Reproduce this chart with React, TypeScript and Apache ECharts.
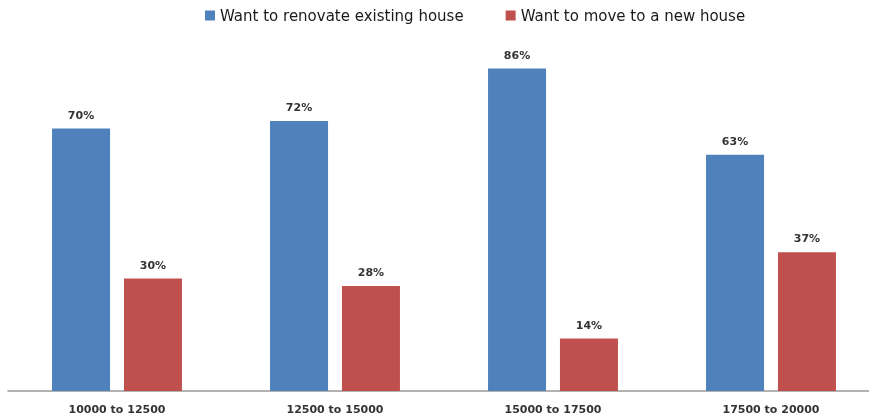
import React, { useEffect, useRef } from "react";
import * as echarts from "echarts";

const categories = ["10000 to 12500", "12500 to 15000", "15000 to 17500", "17500 to 20000"];
const renovate = [70, 72, 86, 63];
const moveNew = [30, 28, 14, 37];
const seriesNames = ["Want to renovate existing house", "Want to move to a new house"];

export default function App() {
  const ref = useRef<HTMLDivElement>(null);
  useEffect(() => {
    if (!ref.current) return;
    const chart = echarts.init(ref.current, null, { renderer: "svg" });
    const font = "'DejaVu Sans', 'Open Sans', sans-serif";
    const label = {
      show: true,
      position: "top",
      distance: 8,
      formatter: "{c}%",
      color: "#333",
      fontSize: 11,
      fontWeight: "bold",
      fontFamily: font,
    };
    chart.setOption({
      animation: false,
      legend: {
        top: 3,
        left: 200,
        itemWidth: 10,
        itemHeight: 10,
        itemGap: 42,
        icon: "rect",
        textStyle: { fontSize: 15, color: "#1a1a1a", fontFamily: font },
        data: seriesNames,
      },
      grid: { left: 8, right: 0, top: 16, bottom: 27 },
      xAxis: {
        type: "category",
        data: categories,
        axisTick: { show: false },
        axisLine: { lineStyle: { color: "#999", width: 1.5 } },
        axisLabel: {
          fontSize: 11,
          fontWeight: "bold",
          color: "#333",
          margin: 13,
          fontFamily: font,
        },
      },
      yAxis: { type: "value", min: 0, max: 100, show: false, splitLine: { show: false } },
      series: [
        {
          name: seriesNames[0],
          type: "bar",
          data: renovate,
          barWidth: 58,
          barGap: "24%",
          itemStyle: { color: "#4F81BD" },
          label,
        },
        {
          name: seriesNames[1],
          type: "bar",
          data: moveNew,
          barWidth: 58,
          barGap: "24%",
          itemStyle: { color: "#C0504D" },
          label,
        },
      ],
    });
    return () => chart.dispose();
  }, []);
  return (
    <div style={{ position: "fixed", left: 0, top: 0, width: 869, height: 418, overflow: "hidden" }}>
      <div ref={ref} style={{ width: 880, height: 418 }} />
    </div>
  );
}
